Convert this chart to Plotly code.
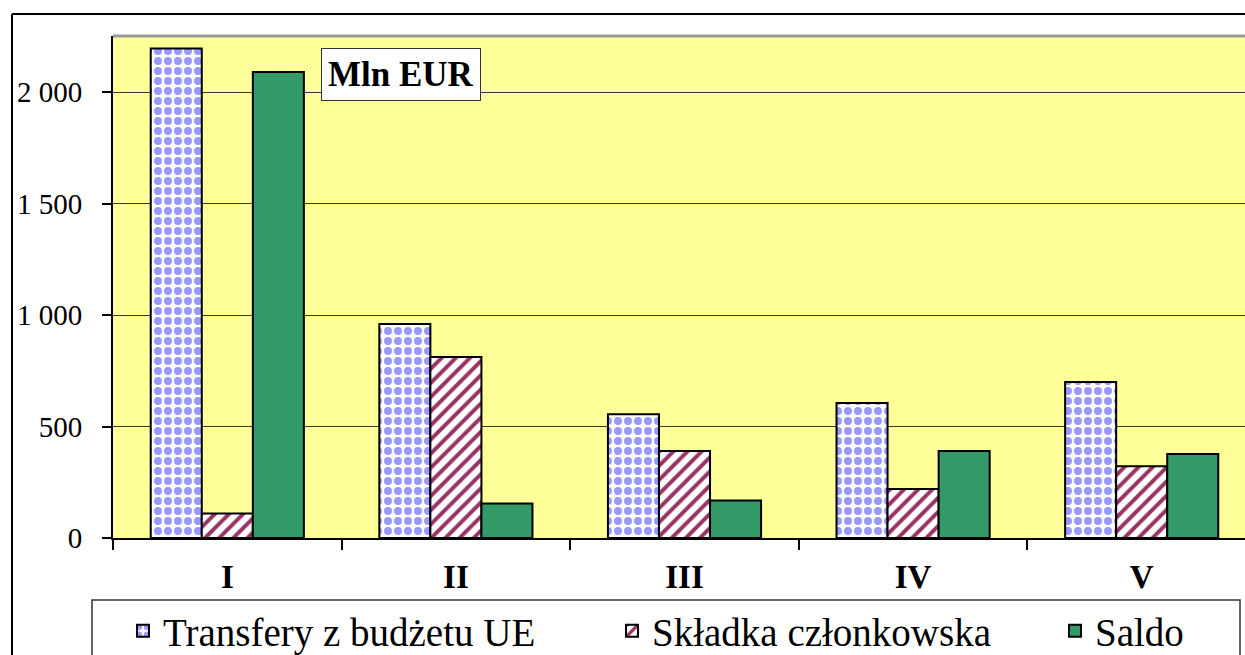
import plotly.graph_objects as go

categories = ["I", "II", "III", "IV", "V"]
transfery = [2195, 960, 555, 605, 700]
skladka = [110, 812, 390, 220, 322]
saldo = [2090, 155, 168, 390, 377]
series_names = ["Transfery z budżetu UE", "Składka członkowska", "Saldo"]
y_ticks = [0, 500, 1000, 1500, 2000]
y_ticklabels = ["0", "500", "1 000", "1 500", "2 000"]

W, H = 1245, 655
L, R, T, B = 113, 1245, 36, 538
pw, ph = R - L, B - T

def px(x):
    return (x - L) / pw

def py(y):
    return (B - y) / ph

FONT = "Liberation Serif"
line = dict(color="black", width=2)

fig = go.Figure()
fig.add_trace(go.Bar(
    x=categories, y=transfery, name=series_names[0], legend="legend",
    marker=dict(color="white", line=line,
                pattern=dict(shape=".", fgcolor="#9999FF", bgcolor="white",
                             size=10, solidity=0.5, fillmode="replace")),
))
fig.add_trace(go.Bar(
    x=categories, y=skladka, name=series_names[1], legend="legend2",
    marker=dict(color="white", line=line,
                pattern=dict(shape="/", fgcolor="#993366", bgcolor="white",
                             size=10, solidity=0.4, fillmode="replace")),
))
fig.add_trace(go.Bar(
    x=categories, y=saldo, name=series_names[2], legend="legend3",
    marker=dict(color="#339966", line=line),
))

def leg(xleft):
    return dict(
        orientation="h", x=px(xleft), xanchor="left", y=py(631), yanchor="middle",
        font=dict(family=FONT, size=39, color="black"),
        borderwidth=0, bgcolor="rgba(0,0,0,0)",
    )

fig.update_layout(
    width=W, height=H,
    margin=dict(l=L, r=W - R, t=T, b=H - B, pad=0, autoexpand=False),
    paper_bgcolor="white",
    plot_bgcolor="#FFFF99",
    barmode="group", bargap=0.33, bargroupgap=0,
    font=dict(family=FONT, color="black"),
    showlegend=True,
    legend=leg(123),
    legend2=leg(612),
    legend3=leg(1055),
    xaxis=dict(
        range=[-0.5, -0.5 + pw / 228.6],
        showline=True, linecolor="black", linewidth=2,
        ticks="outside", tickson="boundaries", ticklen=10, tickcolor="black", tickwidth=2,
        tickfont=dict(family=FONT, size=33, color="black", weight="bold"),
        ticklabelstandoff=8, automargin=False,
        showgrid=False, zeroline=False,
    ),
    yaxis=dict(
        range=[0, (B - T) / (446 / 2000)],
        tickvals=y_ticks, ticktext=y_ticklabels,
        showline=True, linecolor="black", linewidth=2,
        ticks="outside", ticklen=9, tickcolor="black", tickwidth=2,
        tickfont=dict(family=FONT, size=29, color="black"),
        ticklabelstandoff=14, automargin=False,
        showgrid=True, gridcolor="#3a3a1a", gridwidth=1,
        zeroline=False,
    ),
    shapes=[
        dict(type="line", xref="paper", yref="paper", x0=px(12), x1=px(W), y0=py(14), y1=py(14),
             line=dict(color="black", width=2)),
        dict(type="line", xref="paper", yref="paper", x0=px(12), x1=px(12), y0=py(14), y1=py(H),
             line=dict(color="black", width=2)),
        dict(type="line", xref="paper", yref="paper", x0=0, x1=1, y0=1, y1=1,
             line=dict(color="#999999", width=3)),
        dict(type="rect", xref="paper", yref="paper", x0=px(92), x1=px(1240), y0=py(600), y1=py(H + 20),
             line=dict(color="#333333", width=1.5), fillcolor="white", layer="below"),
    ],
    annotations=[
        dict(text="<b>Mln EUR</b>", xref="paper", yref="paper", x=px(401), y=py(74),
             xanchor="center", yanchor="middle", showarrow=False,
             font=dict(family=FONT, size=35, color="black"),
             bgcolor="white", bordercolor="#333333", borderwidth=1, borderpad=6),
    ],
)

fig.write_html("out.html", config={"displayModeBar": False},
               post_script="document.body.style.margin='0';")
